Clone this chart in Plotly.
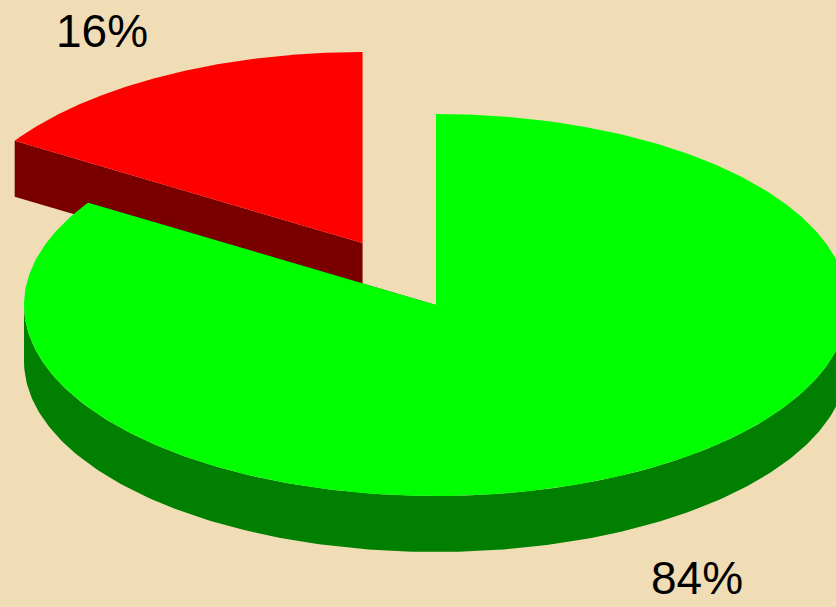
import numpy as np
import plotly.graph_objects as go

# ---- data ----
slice_names = ["Green share", "Red share"]
slice_values = [84, 16]
slice_labels = ["84%", "16%"]
top_colors = ["#00FF00", "#FF0000"]
side_colors = ["#007F00", "#7A0000"]
slice_pull = [0.0, 0.37]

# ---- pie geometry (pixel space) ----
W, H = 836, 607
CX, CY = 436, 305
RX, RY = 412, 191
DEPTH = 56

total = sum(slice_values)
# angles measured from 12 o'clock; positive = counter-clockwise (to the left)
angles = []
start = 360.0
for v in slice_values:
    end = start - 360.0 * v / total
    angles.append((end, start))
    start = end


def pt(theta_deg, cx, cy, dz=0.0):
    t = np.radians(theta_deg)
    return cx - RX * np.sin(t), cy - RY * np.cos(t) + dz


fig = go.Figure()
order = [1, 0]  # back slice first
for i in order:
    a0, a1 = angles[i]
    mid = (a0 + a1) / 2
    mx, my = pt(mid, 0, 0)
    cx = CX + slice_pull[i] * mx
    cy = CY + slice_pull[i] * my

    # radial faces
    for a in (a0, a1):
        px, py = pt(a, cx, cy)
        fig.add_trace(go.Scatter(
            x=[cx, px, px, cx, cx], y=[cy, py, py + DEPTH, cy + DEPTH, cy],
            fill="toself", fillcolor=side_colors[i], mode="lines",
            line=dict(width=0, color=side_colors[i]), hoverinfo="skip",
            showlegend=False))

    # outer wall (front visible part, 90..270)
    segs = []
    for off in (0, 360, -360):
        s, e = max(a0 + off, 90), min(a1 + off, 270)
        if e > s:
            segs.append((s, e))
    for s, e in segs:
        th = np.linspace(s, e, 200)
        tx, ty = pt(th, cx, cy)
        bx, by = pt(th[::-1], cx, cy, DEPTH)
        fig.add_trace(go.Scatter(
            x=np.concatenate([tx, bx, tx[:1]]),
            y=np.concatenate([ty, by, ty[:1]]),
            fill="toself", fillcolor=side_colors[i], mode="lines",
            line=dict(width=0, color=side_colors[i]), hoverinfo="skip",
            showlegend=False))

    # top face
    th = np.linspace(a0, a1, 400)
    tx, ty = pt(th, cx, cy)
    fig.add_trace(go.Scatter(
        x=np.concatenate([[cx], tx, [cx]]),
        y=np.concatenate([[cy], ty, [cy]]),
        fill="toself", fillcolor=top_colors[i], mode="lines",
        line=dict(width=0, color=top_colors[i]), name=slice_names[i],
        hoverinfo="name", showlegend=False))

label_pos = {"16%": (102, 31), "84%": (697, 578)}
for lab in slice_labels:
    x, y = label_pos[lab]
    fig.add_annotation(x=x, y=y, xref="x", yref="y", text=lab, showarrow=False,
                       font=dict(family="Liberation Sans, Arial", size=46, color="#000000"))

fig.update_layout(
    width=W, height=H, margin=dict(l=0, r=0, t=0, b=0),
    paper_bgcolor="#F0DDB5", plot_bgcolor="#F0DDB5",
    xaxis=dict(range=[0, W], visible=False, fixedrange=True),
    yaxis=dict(range=[H, 0], visible=False, fixedrange=True),
)
fig.write_html(
    "out.html",
    config={"displayModeBar": False},
    post_script="document.body.style.margin='0';document.body.style.overflow='hidden';",
)
